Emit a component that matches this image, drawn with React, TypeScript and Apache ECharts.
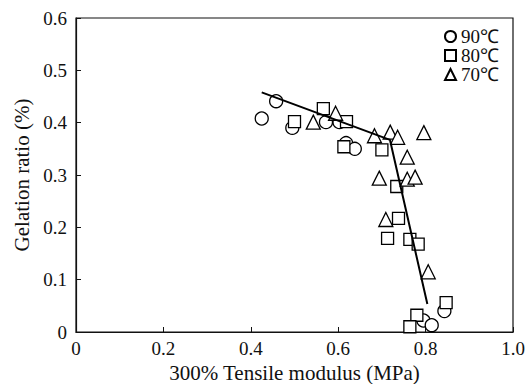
import React, { useEffect, useRef } from "react";
import * as echarts from "echarts";

const seriesNames = ["90℃", "80℃", "70℃"];

const circle90: number[][] = [
  [0.425, 0.408], [0.458, 0.441], [0.495, 0.39], [0.572, 0.401], [0.603, 0.401],
  [0.618, 0.361], [0.638, 0.35], [0.795, 0.022], [0.814, 0.013], [0.843, 0.04],
];
const square80: number[][] = [
  [0.5, 0.402], [0.566, 0.427], [0.619, 0.402], [0.613, 0.354], [0.7, 0.348],
  [0.734, 0.278], [0.738, 0.217], [0.713, 0.179], [0.764, 0.177], [0.783, 0.168],
  [0.847, 0.056], [0.78, 0.032], [0.764, 0.01],
];
const triangle70: number[][] = [
  [0.543, 0.401], [0.594, 0.418], [0.683, 0.375], [0.719, 0.382], [0.736, 0.372],
  [0.796, 0.381], [0.758, 0.334], [0.694, 0.294], [0.758, 0.292], [0.776, 0.296],
  [0.709, 0.215], [0.806, 0.115],
];
const fitLine: number[][] = [[0.425, 0.458], [0.7185, 0.367], [0.804, 0.0535]];

const xTicks = ["0", "0.2", "0.4", "0.6", "0.8", "1.0"];
const yTicks = ["0", "0.1", "0.2", "0.3", "0.4", "0.5", "0.6"];

const FONT = "Liberation Serif, serif";

export default function App() {
  const ref = useRef<HTMLDivElement>(null);
  useEffect(() => {
    if (!ref.current) return;
    const chart = echarts.init(ref.current, undefined, { renderer: "svg" });
    const markerStyle = { color: "#fff", borderColor: "#000", borderWidth: 1.3, opacity: 1 };
    chart.setOption({
      animation: false,
      backgroundColor: "#fff",
      grid: {
        left: 76, right: 15, top: 18, bottom: 52, show: true, borderColor: "#111", borderWidth: 1.2,
        containLabel: false, outerBoundsMode: "none",
      },
      legend: {
        data: seriesNames,
        orient: "vertical",
        left: 439,
        top: 22,
        itemWidth: 11,
        itemHeight: 11,
        itemGap: 0,
        textStyle: { fontFamily: FONT, fontSize: 19, color: "#111" },
      },
      xAxis: {
        type: "value",
        min: 0,
        max: 1,
        interval: 0.2,
        name: "300% Tensile modulus (MPa)",
        nameLocation: "middle",
        nameGap: 30,
        nameTextStyle: { fontFamily: FONT, fontSize: 21, color: "#111" },
        axisLine: { lineStyle: { color: "#111", width: 1.2 } },
        axisTick: { inside: true, length: 5, lineStyle: { color: "#111" } },
        splitLine: { show: false },
        axisLabel: {
          fontFamily: FONT, fontSize: 19, color: "#111", margin: 7,
          formatter: (v: number) => xTicks[Math.round(v * 5)],
        },
      },
      yAxis: {
        type: "value",
        min: 0,
        max: 0.6,
        interval: 0.1,
        name: "Gelation ratio (%)",
        nameLocation: "middle",
        nameGap: 42,
        nameTextStyle: { fontFamily: FONT, fontSize: 21, color: "#111" },
        axisLine: { lineStyle: { color: "#111", width: 1.2 } },
        axisTick: { inside: true, length: 5, lineStyle: { color: "#111" } },
        splitLine: { show: false },
        axisLabel: {
          fontFamily: FONT, fontSize: 19, color: "#111", margin: 9,
          formatter: (v: number) => yTicks[Math.round(v * 10)],
        },
      },
      series: [
        {
          name: "fit", type: "line", data: fitLine, symbol: "none",
          lineStyle: { color: "#000", width: 2 }, z: 3, silent: true,
        },
        { name: seriesNames[0], type: "scatter", data: circle90, symbol: "circle", symbolSize: 13, itemStyle: markerStyle, z: 2 },
        { name: seriesNames[1], type: "scatter", data: square80, symbol: "rect", symbolSize: 12, itemStyle: markerStyle, z: 2 },
        { name: seriesNames[2], type: "scatter", data: triangle70, symbol: "triangle", symbolSize: 14, itemStyle: markerStyle, z: 2 },
      ],
    });
    return () => chart.dispose();
  }, []);
  return <div ref={ref} style={{ width: 528, height: 384, position: "absolute", left: 0, top: 0 }} />;
}
